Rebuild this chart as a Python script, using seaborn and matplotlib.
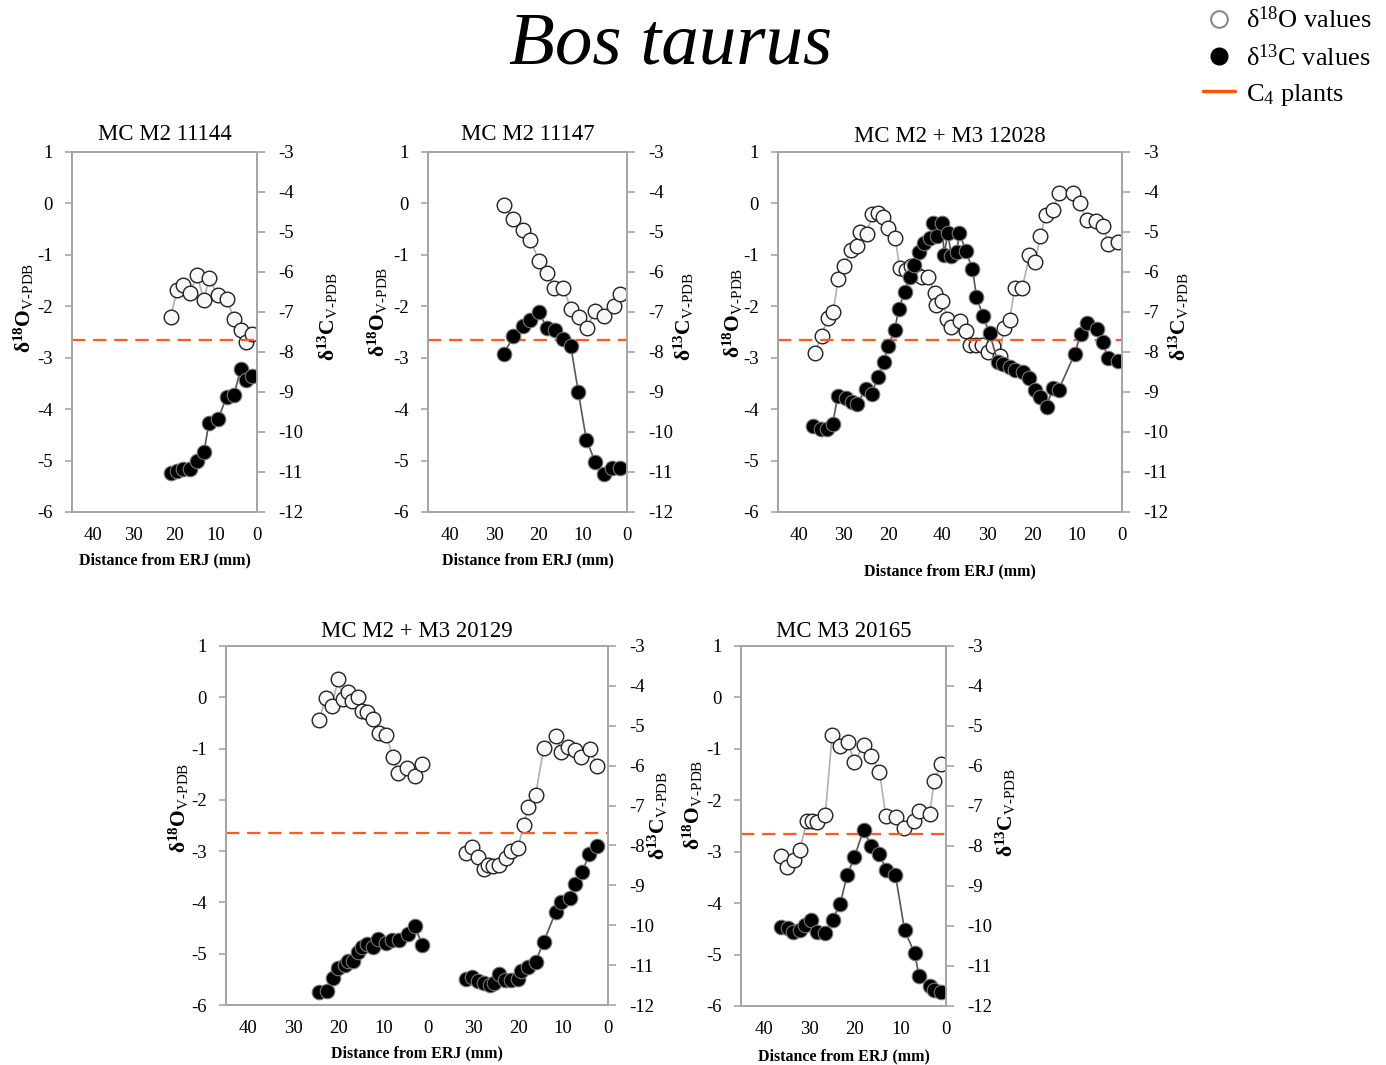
import numpy as np
import pandas as pd
import matplotlib
matplotlib.use("Agg")
import matplotlib.pyplot as plt
from matplotlib.lines import Line2D
import seaborn as sns

# ---- data ----
# MC M2 11144
p1_dist = [21.0, 19.4, 18.1, 16.3, 14.6, 12.9, 11.7, 9.5, 7.4, 5.6, 4.0, 2.6, 1.2]
p1_o = [-2.20, -1.68, -1.59, -1.74, -1.40, -1.88, -1.45, -1.79, -1.85, -2.25, -2.47, -2.69, -2.54]
p1_c = [-11.03, -10.98, -10.93, -10.92, -10.72, -10.50, -9.78, -9.68, -9.13, -9.08, -8.43, -8.71, -8.61]

# MC M2 11147
p2_dist_o = [27.9, 25.7, 23.6, 21.9, 19.8, 18.0, 16.4, 14.4, 12.7, 10.8, 9.1, 7.2, 5.3, 3.0, 1.5]
p2_o = [-0.04, -0.30, -0.52, -0.72, -1.12, -1.35, -1.64, -1.64, -2.05, -2.21, -2.42, -2.10, -2.18, -1.99, -1.76]
p2_dist_c = [27.9, 25.7, 23.6, 21.9, 19.8, 18.2, 16.3, 14.5, 12.7, 11.0, 9.2, 7.2, 5.3, 3.3, 1.5]
p2_c = [-8.05, -7.61, -7.34, -7.19, -7.01, -7.40, -7.46, -7.68, -7.86, -9.01, -10.19, -10.75, -11.04, -10.90, -10.90]

# MC M2 + M3 12028 (position along the joined M2+M3 axis, mm)
p3_pos_o = [68.4, 66.9, 65.5, 64.3, 63.2, 61.8, 60.4, 59.1, 58.4, 56.8, 55.7, 54.4, 53.2, 52.0, 50.5,
            49.5, 48.1, 47.0, 45.9, 44.5, 43.1, 41.7, 41.5, 40.0, 38.9, 38.0, 36.1, 34.7, 33.8, 32.5,
            31.2, 29.9, 28.7, 27.2, 26.3, 25.0, 23.9, 22.2, 20.6, 19.3, 18.2, 17.0, 15.4, 14.0, 10.9,
            9.4, 7.9, 5.7, 4.2, 3.1, 1.0]
p3_o = [-2.90, -2.57, -2.23, -2.11, -1.46, -1.22, -0.91, -0.82, -0.56, -0.60, -0.21, -0.18, -0.26, -0.47, -0.67,
        -1.26, -1.30, -1.22, -1.38, -1.43, -1.43, -1.74, -1.97, -1.90, -2.24, -2.40, -2.28, -2.48, -2.75, -2.76,
        -2.76, -2.89, -2.77, -2.97, -2.42, -2.27, -1.64, -1.65, -1.00, -1.13, -0.64, -0.23, -0.12, 0.20, 0.20,
        0.01, -0.33, -0.34, -0.43, -0.78, -0.75]
p3_pos_c = [68.9, 67.1, 65.7, 64.4, 63.3, 61.5, 60.2, 58.9, 57.1, 55.7, 54.4, 53.1, 52.0, 50.6, 49.7,
            48.4, 47.3, 46.4, 45.1, 44.0, 42.8, 42.1, 41.2, 40.1, 39.6, 38.8, 38.0, 36.8, 36.2, 34.8,
            33.3, 32.4, 31.0, 29.5, 27.7, 26.4, 25.0, 23.9, 22.1, 20.6, 19.4, 18.3, 16.8, 15.4, 14.1,
            10.5, 9.2, 7.8, 5.6, 4.3, 3.2, 1.0]
p3_c = [-9.84, -9.92, -9.92, -9.79, -9.09, -9.14, -9.24, -9.29, -8.92, -9.04, -8.62, -8.24, -7.84, -7.44, -6.92,
        -6.49, -6.12, -5.82, -5.49, -5.27, -5.14, -4.77, -5.10, -4.77, -5.57, -5.02, -5.59, -5.49, -5.02, -5.47,
        -5.92, -6.62, -7.09, -7.52, -8.24, -8.30, -8.37, -8.44, -8.49, -8.64, -8.94, -9.12, -9.37, -8.89, -8.94,
        -8.04, -7.54, -7.27, -7.42, -7.74, -8.14, -8.22]
p3_ticks = [40, 30, 20, 40, 30, 20, 10, 0]

# MC M2 + M3 20129, M2 part
p4_m2_dist_o = [24.3, 22.8, 21.5, 20.0, 19.0, 17.8, 16.9, 15.6, 14.7, 13.7, 12.2, 10.9, 9.3, 7.9, 6.7, 4.7, 3.0, 1.3]
p4_m2_o = [-0.44, -0.02, -0.17, 0.35, -0.04, 0.11, -0.07, 0.00, -0.27, -0.28, -0.42, -0.70, -0.73, -1.17, -1.47, -1.37, -1.53, -1.30]
p4_m2_dist_c = [24.3, 22.6, 21.2, 20.0, 18.5, 17.9, 16.8, 15.7, 14.7, 13.7, 12.2, 11.1, 9.5, 8.0, 6.4, 4.6, 3.0, 1.3]
p4_m2_c = [-11.68, -11.65, -11.33, -11.08, -11.00, -10.89, -10.89, -10.66, -10.55, -10.47, -10.54, -10.35, -10.44, -10.37, -10.37, -10.22, -10.03, -10.49]
# M3 part
p4_m3_dist_o = [31.5, 30.2, 28.9, 27.6, 26.7, 25.6, 24.2, 22.6, 21.6, 20.1, 18.7, 17.8, 16.1, 14.3, 11.5, 10.4, 8.9, 7.4, 5.9, 4.1, 2.4]
p4_m3_o = [-3.04, -2.92, -3.11, -3.35, -3.27, -3.29, -3.27, -3.14, -2.99, -2.94, -2.49, -2.13, -1.90, -0.99, -0.75, -1.06, -0.96, -1.03, -1.17, -1.01, -1.34]
p4_m3_dist_c = [31.5, 30.2, 28.9, 27.6, 26.3, 25.3, 24.2, 23.0, 21.6, 20.1, 19.3, 17.9, 16.1, 14.3, 11.6, 10.4, 8.5, 7.4, 5.7, 4.2, 2.4]
p4_m3_c = [-11.35, -11.29, -11.41, -11.46, -11.50, -11.45, -11.23, -11.37, -11.37, -11.35, -11.16, -11.05, -10.91, -10.41, -9.66, -9.41, -9.32, -8.96, -8.66, -8.22, -8.01]
p4_ticks = [40, 30, 20, 10, 0, 30, 20, 10, 0]

# MC M3 20165
p5_dist_o = [36.3, 34.9, 33.4, 32.1, 30.6, 29.5, 28.3, 26.5, 25.0, 23.3, 21.5, 20.1, 18.1, 16.4, 14.6, 13.2, 11.0, 9.3, 7.1, 6.0, 3.6, 2.6, 1.1]
p5_o = [-3.08, -3.29, -3.16, -2.97, -2.41, -2.41, -2.43, -2.28, -0.74, -0.95, -0.87, -1.26, -0.92, -1.14, -1.45, -2.31, -2.32, -2.54, -2.41, -2.21, -2.27, -1.63, -1.29]
p5_dist_c = [36.3, 34.7, 33.6, 32.1, 30.9, 29.6, 28.3, 26.6, 24.9, 23.2, 21.7, 20.1, 18.1, 16.5, 14.6, 13.2, 11.1, 9.1, 6.9, 5.9, 3.6, 2.6, 1.1]
p5_c = [-10.03, -10.05, -10.14, -10.10, -9.97, -9.84, -10.16, -10.18, -9.84, -9.44, -8.72, -8.28, -7.59, -7.99, -8.19, -8.59, -8.72, -10.10, -10.68, -11.25, -11.50, -11.60, -11.66]

c4_level = -7.7   # C4 plants line, on the d13C axis

# ---- style ----
sns.set_style("white")
plt.rcParams['font.family'] = ['Liberation Serif', 'DejaVu Serif']
plt.rcParams['mathtext.fontset'] = 'custom'
plt.rcParams['mathtext.rm'] = 'Liberation Serif'
plt.rcParams['mathtext.it'] = 'Liberation Serif:italic'
plt.rcParams['mathtext.bf'] = 'Liberation Serif:bold'
plt.rcParams['mathtext.default'] = 'regular'
plt.rcParams['axes.unicode_minus'] = False
for k in ['text.color', 'axes.labelcolor', 'xtick.color', 'ytick.color', 'axes.titlecolor']:
    plt.rcParams[k] = 'black'

W, H = 1386, 1065
GREY = '#a6a6a6'
RED = '#ff5a1f'
O_LABEL = r'δ$^{18}$O$_{\text{V-PDB}}$'
C_LABEL = r'δ$^{13}$C$_{\text{V-PDB}}$'

fig = plt.figure(figsize=(W / 100, H / 100), dpi=100)


def box(l, t, r, b):
    return [l / W, 1 - b / H, (r - l) / W, (b - t) / H]


def series(ax, x, y, filled):
    if filled:
        sns.lineplot(x=x, y=y, ax=ax, sort=False, estimator=None, color='#555555', lw=1.2,
                     marker='o', markersize=10.5, markerfacecolor='black',
                     markeredgecolor='#777777', markeredgewidth=0.8)
    else:
        sns.lineplot(x=x, y=y, ax=ax, sort=False, estimator=None, color='#b0b0b0', lw=1.2,
                     marker='o', markersize=10.5, markerfacecolor='#f8f8f8',
                     markeredgecolor='#222222', markeredgewidth=1.0)


def panel(rect, title, title_pad, xmax, xlab_pad, ylab_o, ylab_c):
    ax = fig.add_axes(box(*rect))
    ax2 = ax.twinx()
    ax.set_xlim(xmax, 0)
    ax.set_ylim(-6, 1)
    ax.set_yticks(range(-6, 2))
    ax2.set_ylim(-12, -3)
    ax2.set_yticks(range(-12, -2))
    for a in (ax, ax2):
        for s in a.spines.values():
            s.set_color(GREY)
            s.set_linewidth(1.3)
        a.set_xlabel('')
        a.set_ylabel('')
    ax.tick_params(axis='y', direction='out', length=5, width=1.2, color=GREY, labelcolor='black',
                   labelsize=13.5, pad=9, left=True)
    ax.tick_params(axis='x', length=0, labelsize=13.5, pad=11, labelcolor='black')
    ax2.tick_params(axis='y', direction='out', length=6, width=1.2, color=GREY, labelcolor='black',
                    labelsize=13.5, pad=9, right=True)
    ax.set_title(title, fontsize=16.5, pad=title_pad)
    ax.set_xlabel('Distance from ERJ (mm)', fontsize=11.5, fontweight='bold', labelpad=xlab_pad)
    fig.text(ylab_o[0] / W, 1 - ylab_o[1] / H, O_LABEL, rotation=90, ha='center', va='center',
             fontsize=15.5, fontweight='bold')
    fig.text(ylab_c[0] / W, 1 - ylab_c[1] / H, C_LABEL, rotation=90, ha='center', va='center',
             fontsize=15.5, fontweight='bold')
    ax2.axhline(c4_level, color=RED, lw=1.6, dashes=(6, 3.5))
    return ax, ax2


# panel 1
ax, ax2 = panel((72, 152, 257, 512), 'MC M2 11144', 9, 45, 6, (24, 308), (328, 316))
ax.set_xticks([40, 30, 20, 10, 0])
series(ax, p1_dist, p1_o, False)
series(ax2, p1_dist, p1_c, True)

# panel 2
ax, ax2 = panel((428, 152, 627, 512), 'MC M2 11147', 9, 45, 6, (378, 312), (684, 316))
ax.set_xticks([40, 30, 20, 10, 0])
series(ax, p2_dist_o, p2_o, False)
series(ax2, p2_dist_c, p2_c, True)

# panel 3
ax, ax2 = panel((778, 152, 1122, 512), 'MC M2 + M3 12028', 7, 76.6, 14, (733, 313), (1179, 316))
ax.set_xticks([72, 62, 52, 40, 30, 20, 10, 0])
ax.set_xticklabels(p3_ticks)
series(ax, p3_pos_o, p3_o, False)
series(ax2, p3_pos_c, p3_c, True)

# panel 4 (M2 drawn 40 mm further left on the joined axis)
off = 40
ax, ax2 = panel((226, 646, 608, 1005), 'MC M2 + M3 20129', 6.5, 85, 6, (179, 808), (658, 815))
ax.set_xticks([80, 70, 60, 50, 40, 30, 20, 10, 0])
ax.set_xticklabels(p4_ticks)
series(ax, [d + off for d in p4_m2_dist_o], p4_m2_o, False)
series(ax, p4_m3_dist_o, p4_m3_o, False)
series(ax2, [d + off for d in p4_m2_dist_c], p4_m2_c, True)
series(ax2, p4_m3_dist_c, p4_m3_c, True)

# panel 5
ax, ax2 = panel((741, 646, 946, 1006), 'MC M3 20165', 6.5, 45, 7, (693, 805), (1006, 812))
ax.set_xticks([40, 30, 20, 10, 0])
series(ax, p5_dist_o, p5_o, False)
series(ax2, p5_dist_c, p5_c, True)

fig.text(671 / W, 1 - 63 / H, 'Bos taurus', style='italic', fontsize=54, ha='center', va='baseline')

handles = [
    Line2D([], [], ls='none', marker='o', markersize=12, markerfacecolor='white',
           markeredgecolor='#888888', markeredgewidth=1.5),
    Line2D([], [], ls='none', marker='o', markersize=12, markerfacecolor='black',
           markeredgecolor='black'),
    Line2D([], [], color='#ff5500', lw=2.5),
]
labels = [r'δ$^{18}$O values', r'δ$^{13}$C values', r'C$_4$ plants']
fig.legend(handles, labels, loc='upper right', bbox_to_anchor=(1382 / W, 1 + 4 / H), frameon=False,
           fontsize=19, handlelength=1.2, handletextpad=0.4, labelspacing=0.42, borderaxespad=0)

fig.savefig('out.png', dpi=100)
